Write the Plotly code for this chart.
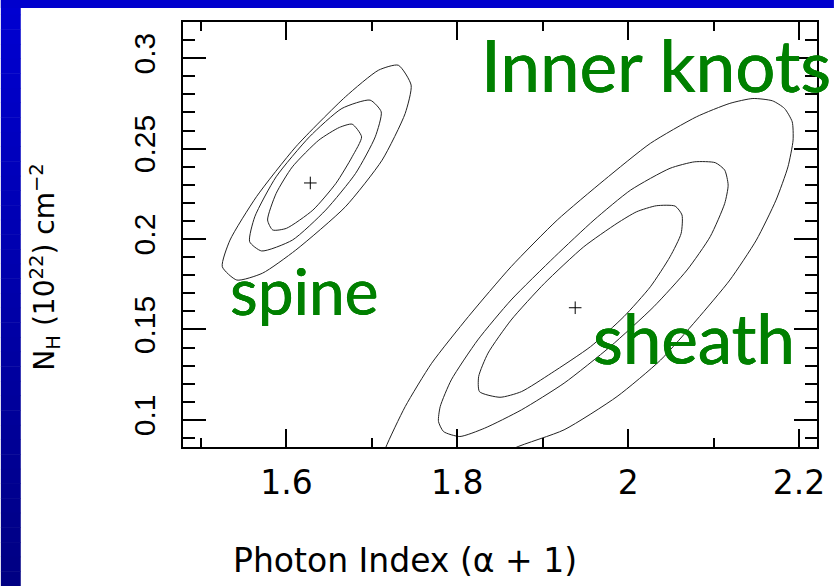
import plotly.graph_objects as go

# ---------------- data ----------------
# best-fit points
fit_names = ["spine", "sheath"]
fit_x = [1.628, 1.938]
fit_y = [0.231, 0.162]

# spine confidence contours (inner, middle, outer)
spine_in_x = [1.688, 1.677, 1.662, 1.638, 1.607, 1.588, 1.578, 1.584, 1.600, 1.631, 1.658, 1.677, 1.688]
spine_in_y = [0.2565, 0.2635, 0.2617, 0.2547, 0.2399, 0.2252, 0.2105, 0.2050, 0.2059, 0.2160, 0.2308, 0.2455, 0.2565]

spine_mid_x = [1.698, 1.711, 1.704, 1.681, 1.646, 1.607, 1.571, 1.557, 1.563, 1.588, 1.627, 1.665, 1.698]
spine_mid_y = [0.2768, 0.2703, 0.2565, 0.2363, 0.2160, 0.1994, 0.1934, 0.1985, 0.2123, 0.2344, 0.2565, 0.2722, 0.2768]

spine_out_x = [1.731, 1.746, 1.739, 1.712, 1.669, 1.611, 1.572, 1.542, 1.525, 1.534, 1.565, 1.611, 1.669, 1.708, 1.731]
spine_out_y = [0.2961, 0.2851, 0.2694, 0.2436, 0.2178, 0.1939, 0.1811, 0.1773, 0.1847, 0.1994, 0.2234, 0.2510, 0.2786, 0.2934, 0.2961]

# sheath confidence contours (inner, middle, outer)
sheath_in_x = [2.033, 2.055, 2.063, 2.062, 2.049, 2.026, 1.995, 1.956, 1.910, 1.875, 1.850, 1.826, 1.825,
               1.836, 1.863, 1.902, 1.948, 1.987, 2.010, 2.033]
sheath_in_y = [0.2184, 0.2182, 0.2133, 0.2031, 0.1902, 0.1736, 0.1571, 0.1405, 0.1258, 0.1156, 0.1125, 0.1156,
               0.1239, 0.1369, 0.1552, 0.1755, 0.1957, 0.2087, 0.2151, 0.2184]

sheath_mid_x = [2.078, 2.102, 2.113, 2.117, 2.113, 2.096, 2.069, 2.030, 1.979, 1.925, 1.875, 1.832, 1.803,
                1.784, 1.778, 1.780, 1.793, 1.824, 1.863, 1.914, 1.960, 2.003, 2.049, 2.078]
sheath_mid_y = [0.2427, 0.2422, 0.2381, 0.2298, 0.2197, 0.2013, 0.1829, 0.1626, 0.1405, 0.1203, 0.1055, 0.0954,
                0.0908, 0.0935, 0.0991, 0.1073, 0.1221, 0.1442, 0.1663, 0.1902, 0.2105, 0.2271, 0.2391, 0.2427]

sheath_out_x = [1.708, 1.716, 1.739, 1.770, 1.813, 1.863, 1.917, 1.972, 2.026, 2.080, 2.119, 2.146, 2.169,
                2.183, 2.192, 2.193, 2.187, 2.173, 2.150, 2.119, 2.080, 2.038, 1.987, 1.925, 1.867, 1.824]
sheath_out_y = [0.0724, 0.0844, 0.1073, 0.1313, 0.1571, 0.1847, 0.2105, 0.2326, 0.2529, 0.2676, 0.2750, 0.2777,
                0.2764, 0.2722, 0.2648, 0.2547, 0.2399, 0.2215, 0.1994, 0.1773, 0.1552, 0.1331, 0.1129, 0.0945,
                0.0844, 0.0724]

# labels
label_text = ["Inner knots", "spine", "sheath"]
label_x = [2.033, 1.621, 2.077]
label_y = [0.2965, 0.1718, 0.1455]
label_size = [71, 64, 69]

x_ticks = [1.6, 1.8, 2.0, 2.2]
x_ticktext = ["1.6", "1.8", "2", "2.2"]
y_ticks = [0.1, 0.15, 0.2, 0.25, 0.3]
y_ticktext = ["0.1", "0.15", "0.2", "0.25", "0.3"]

x_title = "Photon Index (\u03b1 + 1)"
y_title = "N<sub>H</sub> (10<sup>22</sup>) cm<sup>\u22122</sup>"

# ---------------- figure ----------------
W, H = 837, 586
ML, MR, MT, MB = 183, 17, 22, 139
PW, PH = W - ML - MR, H - MT - MB


def px2paper_x(px):
    return (px - ML) / PW


def px2paper_y(py):
    return (H - MB - py) / PH


fig = go.Figure()

line_style = dict(color="#222222", width=1, shape="spline", smoothing=0.6)
for cx, cy in [(spine_in_x, spine_in_y), (spine_mid_x, spine_mid_y), (spine_out_x, spine_out_y),
               (sheath_in_x, sheath_in_y), (sheath_mid_x, sheath_mid_y), (sheath_out_x, sheath_out_y)]:
    fig.add_trace(go.Scatter(x=cx, y=cy, mode="lines", line=line_style, hoverinfo="skip", showlegend=False))

fig.add_trace(go.Scatter(x=fit_x, y=fit_y, mode="markers", text=fit_names,
                         marker=dict(symbol="cross-thin", size=9, line=dict(color="black", width=1)),
                         showlegend=False))

# background decoration: blue gradient bar on the left, blue bar on top
shapes = []
n_steps = 40
for i in range(n_steps):
    y0 = H * i / n_steps
    y1 = H * (i + 1) / n_steps + 0.5
    t = (i + 0.5) / n_steps
    b = int(210 - 80 * t)
    shapes.append(dict(type="rect", xref="paper", yref="paper",
                       x0=px2paper_x(0), x1=px2paper_x(20), y0=px2paper_y(y0), y1=px2paper_y(y1),
                       fillcolor=f"rgb(0,0,{b})", line=dict(width=0), layer="below"))
shapes.append(dict(type="rect", xref="paper", yref="paper",
                   x0=px2paper_x(0), x1=px2paper_x(W), y0=px2paper_y(0), y1=px2paper_y(8),
                   fillcolor="rgb(0,0,205)", line=dict(width=0), layer="below"))

annotations = []
for t, x, y, s in zip(label_text, label_x, label_y, label_size):
    annotations.append(dict(text=t, x=x, y=y, xref="x", yref="y", showarrow=False,
                            xanchor="center", yanchor="middle",
                            font=dict(family="Lato", size=s, color="#008000",
                                      shadow="0.3px 0 0 #008000, -0.3px 0 0 #008000")))
annotations.append(dict(text=x_title, xref="paper", yref="paper", x=px2paper_x(406), y=px2paper_y(560),
                        xanchor="center", yanchor="middle", showarrow=False,
                        font=dict(family="DejaVu Sans", size=33, color="black")))
annotations.append(dict(text=y_title, xref="paper", yref="paper", x=px2paper_x(44), y=px2paper_y(267),
                        xanchor="center", yanchor="middle", showarrow=False, textangle=-90,
                        font=dict(family="DejaVu Sans", size=28, color="black")))

axis_common = dict(showline=True, linecolor="black", linewidth=2, mirror="allticks",
                   ticks="inside", tickcolor="black", tickwidth=1.5, showgrid=False, zeroline=False)

fig.update_layout(
    width=W, height=H,
    margin=dict(l=ML, r=MR, t=MT, b=MB),
    paper_bgcolor="white", plot_bgcolor="white",
    shapes=shapes, annotations=annotations,
    xaxis=dict(range=[1.479, 2.221], tickvals=x_ticks, ticktext=x_ticktext, ticklen=18,
               ticklabelstandoff=5,
               tickfont=dict(family="DejaVu Sans", size=33, color="black"),
               minor=dict(ticks="inside", ticklen=9, tickwidth=1.5, tickcolor="black", dtick=0.1, tick0=1.5),
               **axis_common),
    yaxis=dict(range=[0.085, 0.32], tickvals=y_ticks, ticktext=y_ticktext, ticklen=23, tickangle=-90,
               ticklabelstandoff=14,
               tickfont=dict(family="Liberation Sans", size=30, color="black"),
               minor=dict(ticks="inside", ticklen=12, tickwidth=1.5, tickcolor="black", dtick=0.01, tick0=0.1),
               **axis_common),
)

fig.write_html("out.html")
